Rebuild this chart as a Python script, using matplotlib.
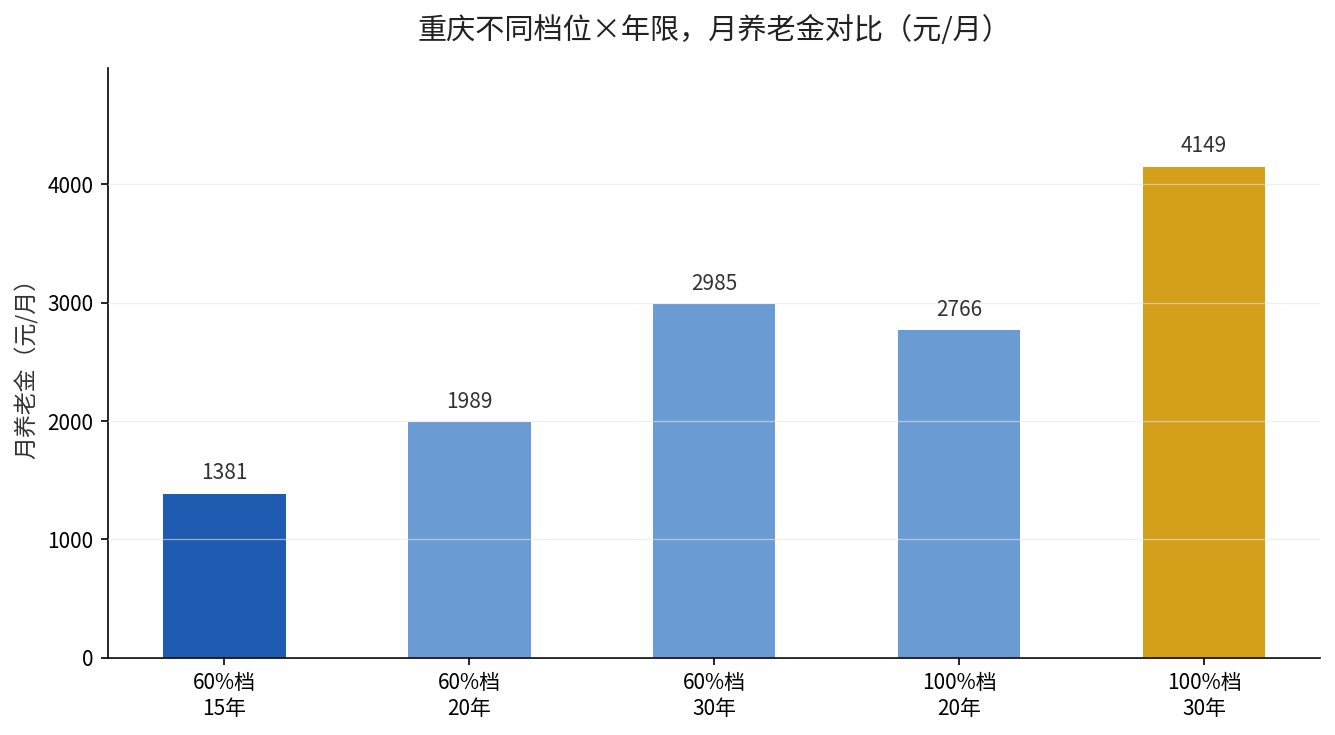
import matplotlib
matplotlib.use("Agg")
import matplotlib.pyplot as plt
import numpy as np

plt.rcParams['font.family'] = ['Noto Sans CJK SC', 'DejaVu Sans']

categories = ["60%档\n15年", "60%档\n20年", "60%档\n30年", "100%档\n20年", "100%档\n30年"]
pensions = [1381, 1989, 2985, 2766, 4149]
bar_colors = ["#1f5bb0", "#6b9bd3", "#6b9bd3", "#6b9bd3", "#d4a01b"]

fig, ax = plt.subplots(figsize=(8.9, 4.9), dpi=150)
x = np.arange(len(categories))
bars = ax.bar(x, pensions, width=0.5, color=bar_colors)

for b, v in zip(bars, pensions):
    ax.text(b.get_x() + b.get_width() / 2, v + max(pensions) * 0.02, f"{v}",
            ha='center', va='bottom', fontsize=10, color='#333333')

ax.set_xticks(x)
ax.set_xticklabels(categories, fontsize=10)
ax.tick_params(axis='y', labelsize=10)
ax.set_ylim(0, max(pensions) * 1.2)
ax.set_ylabel("月养老金（元/月）", fontsize=11, color='#333333')
ax.set_title("重庆不同档位×年限，月养老金对比（元/月）", fontsize=14, pad=14, color='#222222')

ax.yaxis.grid(True, color='#e6e6e6', linewidth=0.6, alpha=0.6)
ax.set_axisbelow(False)
ax.spines['top'].set_visible(False)
ax.spines['right'].set_visible(False)

fig.subplots_adjust(left=0.081, right=0.989, top=0.907, bottom=0.105)
fig.savefig("out.png", dpi=150)
